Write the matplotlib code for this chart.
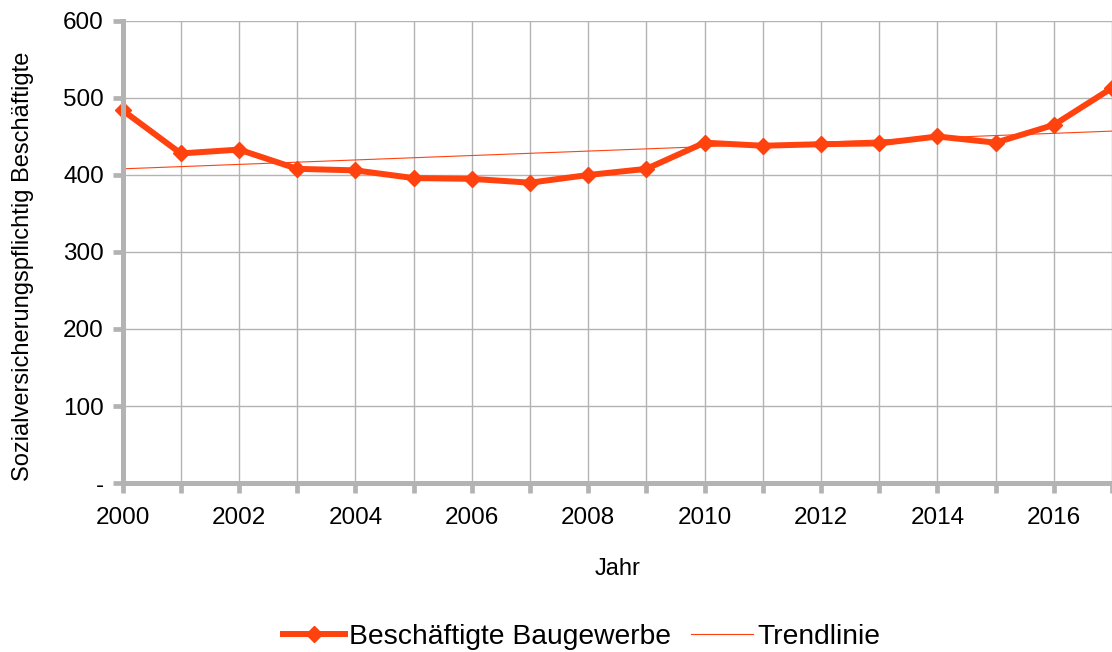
import matplotlib
matplotlib.use("Agg")
import numpy as np
from matplotlib import pyplot as plt
from matplotlib.ticker import FuncFormatter, MultipleLocator

years = [2000, 2001, 2002, 2003, 2004, 2005, 2006, 2007, 2008,
         2009, 2010, 2011, 2012, 2013, 2014, 2015, 2016, 2017]
beschaeftigte = [484, 428, 433, 408, 406, 396, 395, 390, 400,
                 408, 442, 438, 440, 441, 450, 442, 465, 513]
trend_years = [2000, 2017]
trend_values = [408, 457]

orange = "#ff420e"
grey = "#b3b3b3"

plt.rcParams["font.family"] = ["Liberation Sans", "DejaVu Sans"]

fig = plt.figure(figsize=(11.12, 6.52), dpi=100)
ax = fig.add_axes([0.1103, 0.2592, 0.8897, 0.7086])

ax.plot(years, beschaeftigte, color=orange, lw=4.3, marker="D", ms=8.5,
        label="Beschäftigte Baugewerbe", clip_on=False, zorder=4)
ax.plot(trend_years, trend_values, color=orange, lw=0.8,
        label="Trendlinie", zorder=3)

ax.set_xlim(2000, 2017)
ax.set_ylim(0, 600)
ax.xaxis.set_major_locator(MultipleLocator(2))
ax.xaxis.set_minor_locator(MultipleLocator(1))
ax.yaxis.set_major_locator(MultipleLocator(100))
ax.yaxis.set_major_formatter(FuncFormatter(lambda v, p: "-" if v == 0 else f"{v:.0f}"))

ax.grid(True, which="both", axis="x", color=grey, lw=1)
ax.grid(True, which="major", axis="y", color=grey, lw=1)
ax.set_axisbelow(True)

for side in ["top", "right"]:
    ax.spines[side].set_visible(False)
for side in ["left", "bottom"]:
    ax.spines[side].set_color(grey)
    ax.spines[side].set_linewidth(3.6)
    ax.spines[side].set_zorder(5)

ax.tick_params(which="both", length=7.5, width=3.4, color=grey,
               labelsize=17.5, labelcolor="black", pad=6)
ax.tick_params(axis="x", which="major", pad=10)

ax.set_xlabel("Jahr", fontsize=17, labelpad=21)
ax.set_ylabel("Sozialversicherungspflichtig Beschäftigte", fontsize=17)
ax.yaxis.set_label_coords(-0.09, 0.468)

fig.legend(loc="lower center", bbox_to_anchor=(0.523, -0.036), ncol=2, frameon=False,
           fontsize=20.3, handlelength=2.2, handletextpad=0.15, columnspacing=0.7)

fig.savefig("out.png", dpi=100)
